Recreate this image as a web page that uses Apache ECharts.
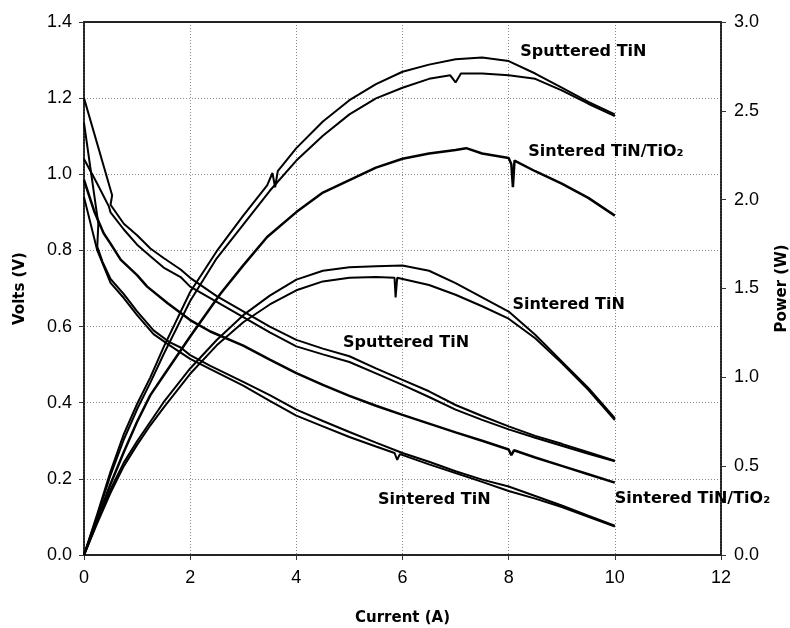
<!DOCTYPE html>
<html>
<head>
<meta charset="utf-8">
<script src="https://cdn.jsdelivr.net/npm/echarts@6/dist/echarts.min.js"></script>
<style>
  html, body { margin: 0; padding: 0; background: #fff; }
  #chart { width: 790px; height: 628px; }
</style>
</head>
<body>
<div id="chart"></div>
<script>
// polarisation curves, [current (A), volts (V)]
const voltsSputteredA = [[0,1.2],[0.53,0.945],[0.5,0.92],[0.75,0.87],[1.0,0.84],[1.25,0.805],[1.5,0.78],[1.82,0.75],[2.0,0.728],[2.5,0.68],[3.0,0.64],[3.5,0.6],[4.0,0.565],[4.5,0.542],[5.0,0.522],[5.5,0.49],[6.0,0.46],[6.5,0.43],[7.0,0.394],[7.5,0.365],[8.0,0.338],[8.5,0.313],[9.0,0.292],[9.5,0.27],[10.0,0.248]];
const voltsSputteredB = [[0,1.04],[0.25,0.975],[0.47,0.915],[0.5,0.9],[0.75,0.855],[1.0,0.815],[1.25,0.785],[1.5,0.755],[1.82,0.73],[2.0,0.705],[2.5,0.665],[3.0,0.625],[3.5,0.585],[4.0,0.548],[4.5,0.527],[5.0,0.507],[5.5,0.477],[6.0,0.447],[6.5,0.415],[7.0,0.382],[7.5,0.355],[8.0,0.33],[8.5,0.308],[9.0,0.287],[9.5,0.266],[10.0,0.246]];
const voltsTiO2 = [[0,0.985],[0.2,0.9],[0.37,0.845],[0.5,0.818],[0.69,0.776],[1.0,0.735],[1.19,0.705],[1.57,0.662],[2.0,0.617],[2.38,0.587],[3.0,0.55],[3.5,0.513],[4.0,0.478],[4.5,0.447],[5.0,0.418],[5.5,0.392],[6.0,0.368],[6.5,0.345],[7.0,0.322],[7.5,0.3],[8.0,0.277],[8.05,0.262],[8.1,0.275],[8.5,0.256],[9.0,0.234],[9.5,0.212],[10.0,0.19]];
const voltsSinteredA = [[0,1.135],[0.27,0.87],[0.25,0.81],[0.35,0.77],[0.5,0.725],[0.75,0.685],[1.0,0.64],[1.31,0.59],[1.6,0.56],[1.82,0.545],[2.0,0.525],[2.38,0.497],[3.0,0.455],[3.5,0.42],[4.0,0.382],[4.5,0.352],[5.0,0.323],[5.5,0.295],[6.0,0.268],[6.5,0.245],[7.0,0.22],[7.5,0.198],[8.0,0.18],[8.5,0.155],[9.0,0.13],[9.5,0.103],[10.0,0.077]];
const voltsSinteredB = [[0,0.94],[0.25,0.8],[0.5,0.715],[0.75,0.675],[1.0,0.63],[1.31,0.58],[1.6,0.552],[2.0,0.515],[2.38,0.488],[3.0,0.445],[3.5,0.405],[4.0,0.366],[4.5,0.338],[5.0,0.31],[5.5,0.285],[5.85,0.268],[5.9,0.25],[5.95,0.265],[6.5,0.238],[7.0,0.215],[7.5,0.192],[8.0,0.168],[8.5,0.148],[9.0,0.126],[9.5,0.1],[10.0,0.075]];

// power curves, [current (A), power (W)]
const powerSputteredA = [[0,0],[0.25,0.23],[0.5,0.47],[0.75,0.68],[1.0,0.85],[1.25,1.0],[1.5,1.17],[2.0,1.48],[2.5,1.71],[3.0,1.91],[3.45,2.08],[3.55,2.15],[3.6,2.07],[3.65,2.16],[4.0,2.29],[4.5,2.44],[5.0,2.56],[5.5,2.65],[6.0,2.72],[6.5,2.76],[7.0,2.79],[7.5,2.8],[8.0,2.78],[8.5,2.71],[9.0,2.63],[9.5,2.55],[10.0,2.48]];
const powerSputteredB = [[0,0],[0.25,0.22],[0.5,0.45],[0.75,0.65],[1.0,0.82],[1.25,0.97],[1.5,1.13],[2.0,1.43],[2.5,1.67],[3.0,1.86],[3.5,2.05],[4.0,2.22],[4.5,2.36],[5.0,2.48],[5.5,2.57],[6.0,2.63],[6.5,2.68],[6.9,2.7],[7.0,2.66],[7.1,2.71],[7.5,2.71],[8.0,2.7],[8.5,2.68],[9.0,2.615],[9.5,2.54],[10.0,2.47]];
const powerTiO2 = [[0,0],[0.25,0.2],[0.5,0.4],[0.75,0.58],[1.0,0.75],[1.25,0.9],[1.5,1.01],[2.0,1.23],[2.57,1.47],[3.0,1.63],[3.45,1.79],[4.0,1.93],[4.5,2.04],[5.0,2.11],[5.5,2.18],[6.0,2.23],[6.5,2.26],[7.0,2.28],[7.2,2.29],[7.5,2.26],[8.0,2.235],[8.05,2.2],[8.08,2.07],[8.11,2.22],[8.5,2.16],[9.0,2.09],[9.5,2.01],[10.0,1.91]];
const powerSinteredA = [[0,0],[0.25,0.19],[0.5,0.37],[0.75,0.52],[1.0,0.64],[1.25,0.75],[1.5,0.86],[2.0,1.05],[2.5,1.21],[3.0,1.35],[3.5,1.46],[4.0,1.55],[4.5,1.6],[5.0,1.62],[5.5,1.625],[6.0,1.63],[6.5,1.6],[7.0,1.53],[7.5,1.45],[8.0,1.37],[8.5,1.24],[9.0,1.09],[9.5,0.94],[10.0,0.77]];
const powerSinteredB = [[0,0],[0.25,0.18],[0.5,0.35],[0.75,0.5],[1.0,0.62],[1.25,0.73],[1.5,0.83],[2.0,1.02],[2.5,1.18],[3.0,1.31],[3.5,1.41],[4.0,1.49],[4.5,1.54],[5.0,1.56],[5.5,1.565],[5.85,1.56],[5.87,1.45],[5.9,1.56],[6.5,1.52],[7.0,1.465],[7.5,1.4],[8.0,1.33],[8.5,1.22],[9.0,1.08],[9.5,0.93],[10.0,0.76]];

// curve labels, anchored on the left edge at [current, volts]
const curveLabels = [
    { text: 'Sputtered TiN', at: [8.22, 1.322] },
    { text: 'Sintered TiN/TiO\u2082', at: [8.37, 1.059] },
    { text: 'Sintered TiN', at: [8.07, 0.657] },
    { text: 'Sputtered TiN', at: [4.88, 0.557] },
    { text: 'Sintered TiN', at: [5.54, 0.145] },
    { text: 'Sintered TiN/TiO\u2082', at: [10.0, 0.147] }
];

const axisFont = 'Liberation Sans';
const boldFont = 'DejaVu Sans';
const borderLine = { show: true, onZero: false, lineStyle: { color: '#222', width: 2, type: [2, 1] } };

function curve(data, yAxisIndex, width) {
    return {
        type: 'line',
        data: data,
        xAxisIndex: 0,
        yAxisIndex: yAxisIndex,
        symbol: 'none',
        showSymbol: false,
        lineStyle: { color: '#000', width: width || 2 },
        animation: false
    };
}

let myChart = echarts.init(document.getElementById('chart'));
let option = {
    backgroundColor: '#fff',
    animation: false,
    grid: { left: 84, right: 69, top: 22, bottom: 73, outerBoundsMode: 'none', containLabel: false },
    xAxis: [
        {
            type: 'value',
            min: 0, max: 12, interval: 2,
            name: 'Current (A)',
            nameLocation: 'middle',
            nameGap: 56,
            nameTextStyle: { fontFamily: boldFont, fontWeight: 'bold', fontSize: 15, color: '#000' },
            axisLine: borderLine,
            axisTick: { show: true, length: 5, lineStyle: { color: '#333' } },
            axisLabel: { fontFamily: axisFont, fontSize: 18, color: '#000', margin: 14 },
            splitLine: { show: true, lineStyle: { color: '#888', type: [1, 2] } }
        },
        {
            type: 'value',
            position: 'top',
            min: 0, max: 12,
            axisLine: borderLine,
            axisTick: { show: false },
            axisLabel: { show: false },
            splitLine: { show: false }
        }
    ],
    yAxis: [
        {
            type: 'value',
            min: 0, max: 1.4, interval: 0.2,
            name: 'Volts (V)',
            nameLocation: 'middle',
            nameGap: 56,
            nameTextStyle: { fontFamily: boldFont, fontWeight: 'bold', fontSize: 15, color: '#000' },
            axisLine: borderLine,
            axisTick: { show: true, length: 5, lineStyle: { color: '#333' } },
            axisLabel: { fontFamily: axisFont, fontSize: 18, color: '#000', margin: 12,
                formatter: v => v.toFixed(1) },
            splitLine: { show: true, lineStyle: { color: '#888', type: [1, 2] } }
        },
        {
            type: 'value',
            position: 'right',
            min: 0, max: 3.0, interval: 0.5,
            name: 'Power (W)',
            nameLocation: 'middle',
            nameGap: 54,
            nameRotate: 90,
            nameTextStyle: { fontFamily: boldFont, fontWeight: 'bold', fontSize: 15, color: '#000' },
            axisLine: borderLine,
            axisTick: { show: true, length: 5, lineStyle: { color: '#333' } },
            axisLabel: { fontFamily: axisFont, fontSize: 18, color: '#000', margin: 13,
                formatter: v => v.toFixed(1) },
            splitLine: { show: false }
        }
    ],
    series: [
        curve(voltsSputteredA, 0),
        curve(voltsSputteredB, 0),
        curve(voltsTiO2, 0, 2.5),
        curve(voltsSinteredA, 0),
        curve(voltsSinteredB, 0),
        curve(powerSputteredA, 1),
        curve(powerSputteredB, 1),
        curve(powerTiO2, 1, 2.5),
        curve(powerSinteredA, 1),
        curve(powerSinteredB, 1)
    ]
};
myChart.setOption(option);

// place the curve labels through the axes
myChart.setOption({
    graphic: curveLabels.map(function (l) {
        let p = myChart.convertToPixel({ xAxisIndex: 0, yAxisIndex: 0 }, l.at);
        return {
            type: 'text',
            x: p[0],
            y: p[1],
            z: 100,
            style: {
                text: l.text,
                fill: '#000',
                font: 'bold 16px DejaVu Sans, sans-serif',
                textAlign: 'left',
                textVerticalAlign: 'middle'
            }
        };
    })
});
</script>
</body>
</html>
